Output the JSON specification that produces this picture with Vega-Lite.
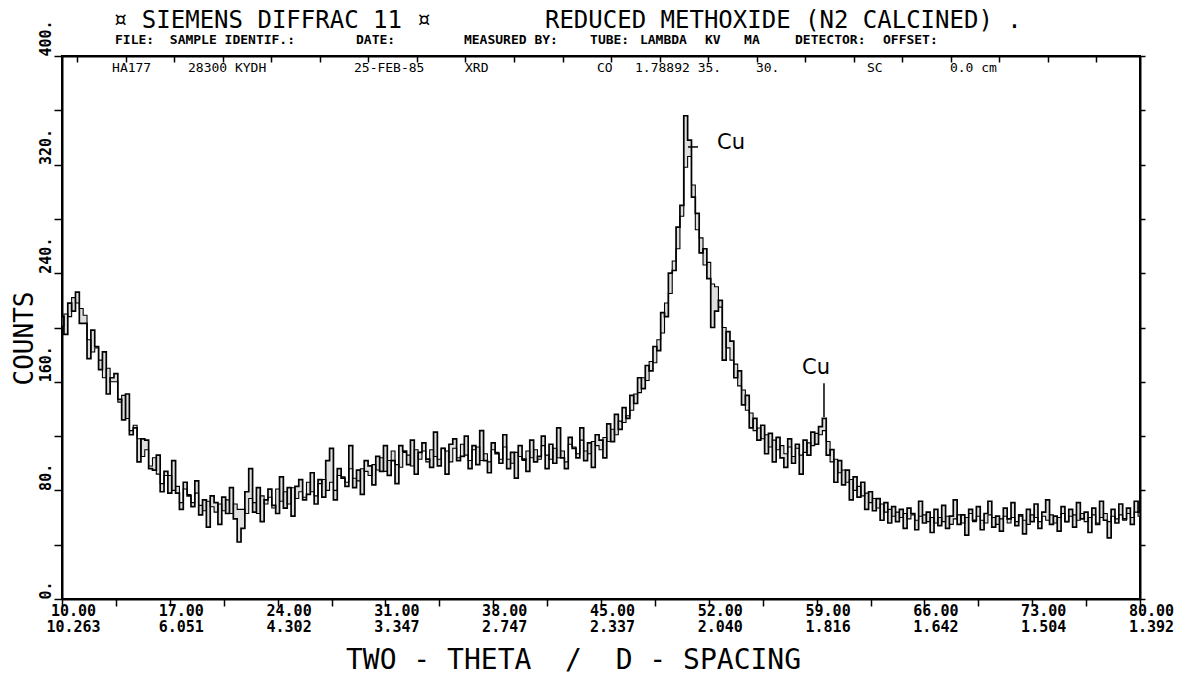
{
"$schema":"https://vega.github.io/schema/vega-lite/v6.json",
"width":1078,"height":543,
"autosize":{"type":"none"},
"padding":{"left":62,"top":56,"right":60,"bottom":76},
"background":"white",
"config":{"font":"DejaVu Sans Mono","view":{"stroke":"black","strokeWidth":2},
 "axis":{"grid":false,"domainColor":"black","domainWidth":2,"tickColor":"black","tickWidth":1.5,"labelColor":"black","titleColor":"black"}},
"datasets":{
"xrd":[
{"t":10,"a":208,"b":201},{"t":10.25,"a":195,"b":210},{"t":10.5,"a":218,"b":208},{"t":10.75,"a":212,"b":222},{"t":11,"a":226,"b":218},
{"t":11.25,"a":203,"b":214},{"t":11.5,"a":203,"b":209},{"t":11.75,"a":177,"b":191},{"t":12,"a":198,"b":182},{"t":12.25,"a":186,"b":185},
{"t":12.5,"a":169,"b":176},{"t":12.75,"a":182,"b":163},{"t":13,"a":151,"b":170},{"t":13.25,"a":163,"b":160},{"t":13.5,"a":166,"b":160},
{"t":13.75,"a":147,"b":145},{"t":14,"a":132,"b":150},{"t":14.25,"a":151,"b":133},{"t":14.5,"a":121,"b":124},{"t":14.75,"a":126,"b":128},
{"t":15,"a":101,"b":118},{"t":15.25,"a":118,"b":105},{"t":15.5,"a":117,"b":110},{"t":15.75,"a":96,"b":98},{"t":16,"a":95,"b":104},
{"t":16.25,"a":106,"b":92},{"t":16.5,"a":79,"b":85},{"t":16.75,"a":94,"b":91},{"t":17,"a":78,"b":91},{"t":17.25,"a":102,"b":80},
{"t":17.5,"a":78,"b":83},{"t":17.75,"a":66,"b":71},{"t":18,"a":86,"b":81},{"t":18.25,"a":76,"b":77},{"t":18.5,"a":68,"b":71},
{"t":18.75,"a":87,"b":78},{"t":19,"a":62,"b":69},{"t":19.25,"a":73,"b":65},{"t":19.5,"a":53,"b":72},{"t":19.75,"a":76,"b":68},
{"t":20,"a":71,"b":64},{"t":20.25,"a":55,"b":70},{"t":20.5,"a":75,"b":65},{"t":20.75,"a":63,"b":73},{"t":21,"a":82,"b":63},
{"t":21.25,"a":59,"b":70},{"t":21.5,"a":42,"b":66},{"t":21.75,"a":52,"b":66},{"t":22,"a":79,"b":63},{"t":22.25,"a":96,"b":74},
{"t":22.5,"a":64,"b":71},{"t":22.75,"a":82,"b":63},{"t":23,"a":57,"b":76},{"t":23.25,"a":73,"b":70},{"t":23.5,"a":81,"b":75},
{"t":23.75,"a":69,"b":67},{"t":24,"a":63,"b":81},{"t":24.25,"a":90,"b":72},{"t":24.5,"a":67,"b":79},{"t":24.75,"a":82,"b":70},
{"t":25,"a":61,"b":82},{"t":25.25,"a":83,"b":74},{"t":25.5,"a":88,"b":79},{"t":25.75,"a":73,"b":75},{"t":26,"a":77,"b":86},
{"t":26.25,"a":93,"b":79},{"t":26.5,"a":70,"b":76},{"t":26.75,"a":88,"b":85},{"t":27,"a":75,"b":88},{"t":27.25,"a":102,"b":80},
{"t":27.5,"a":111,"b":86},{"t":27.75,"a":73,"b":80},{"t":28,"a":96,"b":91},{"t":28.25,"a":89,"b":90},{"t":28.5,"a":83,"b":86},
{"t":28.75,"a":113,"b":96},{"t":29,"a":82,"b":89},{"t":29.25,"a":95,"b":87},{"t":29.5,"a":77,"b":96},{"t":29.75,"a":102,"b":94},
{"t":30,"a":98,"b":91},{"t":30.25,"a":84,"b":99},{"t":30.5,"a":105,"b":95},{"t":30.75,"a":94,"b":104},{"t":31,"a":113,"b":94},
{"t":31.25,"a":91,"b":102},{"t":31.5,"a":102,"b":109},{"t":31.75,"a":85,"b":99},{"t":32,"a":113,"b":97},{"t":32.25,"a":109,"b":108},
{"t":32.5,"a":99,"b":106},{"t":32.75,"a":117,"b":98},{"t":33,"a":92,"b":110},{"t":33.25,"a":108,"b":103},{"t":33.5,"a":115,"b":109},
{"t":33.75,"a":103,"b":101},{"t":34,"a":97,"b":110},{"t":34.25,"a":123,"b":105},{"t":34.5,"a":98,"b":103},{"t":34.75,"a":111,"b":111},
{"t":35,"a":92,"b":109},{"t":35.25,"a":114,"b":101},{"t":35.5,"a":118,"b":111},{"t":35.75,"a":102,"b":104},{"t":36,"a":105,"b":114},
{"t":36.25,"a":120,"b":106},{"t":36.5,"a":96,"b":102},{"t":36.75,"a":113,"b":110},{"t":37,"a":99,"b":112},{"t":37.25,"a":124,"b":102},
{"t":37.5,"a":102,"b":107},{"t":37.75,"a":93,"b":101},{"t":38,"a":115,"b":110},{"t":38.25,"a":107,"b":108},{"t":38.5,"a":100,"b":103},
{"t":38.75,"a":121,"b":112},{"t":39,"a":96,"b":103},{"t":39.25,"a":108,"b":100},{"t":39.5,"a":89,"b":108},{"t":39.75,"a":113,"b":105},
{"t":40,"a":103,"b":102},{"t":40.25,"a":94,"b":109},{"t":40.5,"a":117,"b":104},{"t":40.75,"a":101,"b":110},{"t":41,"a":105,"b":103},
{"t":41.25,"a":120,"b":113},{"t":41.5,"a":96,"b":106},{"t":41.75,"a":114,"b":103},{"t":42,"a":100,"b":111},{"t":42.25,"a":126,"b":104},
{"t":42.5,"a":104,"b":109},{"t":42.75,"a":96,"b":101},{"t":43,"a":119,"b":114},{"t":43.25,"a":111,"b":112},{"t":43.5,"a":104,"b":107},
{"t":43.75,"a":126,"b":117},{"t":44,"a":102,"b":109},{"t":44.25,"a":115,"b":107},{"t":44.5,"a":97,"b":116},{"t":44.75,"a":121,"b":113},
{"t":45,"a":117,"b":110},{"t":45.25,"a":104,"b":119},{"t":45.5,"a":129,"b":116},{"t":45.75,"a":116,"b":125},{"t":46,"a":136,"b":121},
{"t":46.25,"a":125,"b":131},{"t":46.5,"a":141,"b":130},{"t":46.75,"a":133,"b":135},{"t":47,"a":150,"b":139},{"t":47.25,"a":144,"b":151},
{"t":47.5,"a":163,"b":152},{"t":47.75,"a":155,"b":163},{"t":48,"a":172,"b":161},{"t":48.25,"a":168,"b":175},{"t":48.5,"a":186,"b":174},
{"t":48.75,"a":183,"b":191},{"t":49,"a":211,"b":196},{"t":49.25,"a":208,"b":218},{"t":49.5,"a":240,"b":225},{"t":49.75,"a":242,"b":249},
{"t":50,"a":274,"b":258},{"t":50.25,"a":290,"b":282},{"t":50.5,"a":356,"b":318},{"t":50.75,"a":338,"b":326},{"t":51,"a":296,"b":305},
{"t":51.25,"a":284,"b":272},{"t":51.5,"a":255,"b":266},{"t":51.75,"a":258,"b":246},{"t":52,"a":236,"b":248},{"t":52.25,"a":200,"b":232},
{"t":52.5,"a":212,"b":230},{"t":52.75,"a":220,"b":215},{"t":53,"a":176,"b":200},{"t":53.25,"a":197,"b":185},{"t":53.5,"a":190,"b":176},
{"t":53.75,"a":163,"b":173},{"t":54,"a":168,"b":157},{"t":54.25,"a":143,"b":154},{"t":54.5,"a":150,"b":139},{"t":54.75,"a":126,"b":137},
{"t":55,"a":133,"b":124},{"t":55.25,"a":117,"b":126},{"t":55.5,"a":128,"b":118},{"t":55.75,"a":107,"b":121},{"t":56,"a":122,"b":112},
{"t":56.25,"a":101,"b":117},{"t":56.5,"a":119,"b":110},{"t":56.75,"a":104,"b":113},{"t":57,"a":97,"b":107},{"t":57.25,"a":118,"b":112},
{"t":57.5,"a":100,"b":105},{"t":57.75,"a":114,"b":111},{"t":58,"a":92,"b":106},{"t":58.25,"a":117,"b":108},{"t":58.5,"a":106,"b":115},
{"t":58.75,"a":123,"b":113},{"t":59,"a":114,"b":122},{"t":59.25,"a":127,"b":121},{"t":59.5,"a":133,"b":124},{"t":59.75,"a":106,"b":116},
{"t":60,"a":110,"b":101},{"t":60.25,"a":86,"b":103},{"t":60.5,"a":102,"b":93},{"t":60.75,"a":84,"b":95},{"t":61,"a":95,"b":86},
{"t":61.25,"a":73,"b":88},{"t":61.5,"a":90,"b":80},{"t":61.75,"a":75,"b":83},{"t":62,"a":86,"b":76},{"t":62.25,"a":66,"b":78},
{"t":62.5,"a":79,"b":71},{"t":62.75,"a":65,"b":74},{"t":63,"a":74,"b":67},{"t":63.25,"a":58,"b":70},{"t":63.5,"a":71,"b":64},
{"t":63.75,"a":56,"b":66},{"t":64,"a":68,"b":61},{"t":64.25,"a":57,"b":64},{"t":64.5,"a":66,"b":60},{"t":64.75,"a":52,"b":63},
{"t":65,"a":67,"b":59},{"t":65.25,"a":63,"b":62},{"t":65.5,"a":51,"b":58},{"t":65.75,"a":72,"b":61},{"t":66,"a":56,"b":62},
{"t":66.25,"a":64,"b":57},{"t":66.5,"a":49,"b":60},{"t":66.75,"a":66,"b":56},{"t":67,"a":54,"b":60},{"t":67.25,"a":69,"b":57},
{"t":67.5,"a":52,"b":61},{"t":67.75,"a":61,"b":55},{"t":68,"a":73,"b":59},{"t":68.25,"a":55,"b":62},{"t":68.5,"a":62,"b":56},
{"t":68.75,"a":47,"b":60},{"t":69,"a":66,"b":63},{"t":69.25,"a":58,"b":57},{"t":69.5,"a":68,"b":61},{"t":69.75,"a":51,"b":58},
{"t":70,"a":63,"b":56},{"t":70.25,"a":72,"b":62},{"t":70.5,"a":53,"b":60},{"t":70.75,"a":61,"b":55},{"t":71,"a":50,"b":59},
{"t":71.25,"a":67,"b":61},{"t":71.5,"a":59,"b":56},{"t":71.75,"a":71,"b":60},{"t":72,"a":54,"b":57},{"t":72.25,"a":62,"b":61},
{"t":72.5,"a":48,"b":58},{"t":72.75,"a":66,"b":55},{"t":73,"a":57,"b":62},{"t":73.25,"a":70,"b":60},{"t":73.5,"a":52,"b":57},
{"t":73.75,"a":64,"b":61},{"t":74,"a":73,"b":58},{"t":74.25,"a":55,"b":62},{"t":74.5,"a":61,"b":56},{"t":74.75,"a":50,"b":60},
{"t":75,"a":68,"b":63},{"t":75.25,"a":57,"b":57},{"t":75.5,"a":66,"b":61},{"t":75.75,"a":53,"b":62},{"t":76,"a":71,"b":58},
{"t":76.25,"a":59,"b":63},{"t":76.5,"a":64,"b":57},{"t":76.75,"a":49,"b":60},{"t":77,"a":67,"b":62},{"t":77.25,"a":55,"b":56},
{"t":77.5,"a":72,"b":60},{"t":77.75,"a":58,"b":63},{"t":78,"a":45,"b":57},{"t":78.25,"a":66,"b":61},{"t":78.5,"a":56,"b":59},
{"t":78.75,"a":70,"b":62},{"t":79,"a":59,"b":58},{"t":79.25,"a":67,"b":63},{"t":79.5,"a":55,"b":60},{"t":79.75,"a":72,"b":64},
{"t":80,"a":64,"b":61}
],
"hdr":[
{"k":"title","txt":"¤ SIEMENS DIFFRAC 11 ¤","t":13.31,"c":425.5},
{"k":"title","txt":"REDUCED METHOXIDE (N2 CALCINED) .","t":41.36,"c":425.5},
{"k":"lbl","txt":"FILE:","t":13.44,"c":411.5},
{"k":"lbl","txt":"SAMPLE IDENTIF.:","t":17.0,"c":411.5},
{"k":"lbl","txt":"DATE:","t":29.09,"c":411.5},
{"k":"lbl","txt":"MEASURED BY:","t":36.1,"c":411.5},
{"k":"lbl","txt":"TUBE:","t":44.29,"c":411.5},
{"k":"lbl","txt":"LAMBDA","t":47.53,"c":411.5},
{"k":"lbl","txt":"KV","t":51.75,"c":411.5},
{"k":"lbl","txt":"MA","t":54.29,"c":411.5},
{"k":"lbl","txt":"DETECTOR:","t":57.6,"c":411.5},
{"k":"lbl","txt":"OFFSET:","t":63.31,"c":411.5},
{"k":"val","txt":"HA177","t":13.25,"c":391},
{"k":"val","txt":"28300 KYDH","t":18.18,"c":391},
{"k":"val","txt":"25-FEB-85","t":28.96,"c":391},
{"k":"val","txt":"XRD","t":36.17,"c":391},
{"k":"val","txt":"CO","t":44.74,"c":391},
{"k":"val","txt":"1.78892 35.","t":47.21,"c":391},
{"k":"val","txt":"30.","t":55.06,"c":391},
{"k":"val","txt":"SC","t":62.27,"c":391},
{"k":"val","txt":"0.0 cm","t":67.66,"c":391},
{"k":"cu","txt":"Cu","t":52.53,"c":336},
{"k":"cu","txt":"Cu","t":58.05,"c":170}
],
"cum":[
{"x":50.65,"x2":51.3,"y":333,"y2":333},
{"x":59.48,"x2":59.48,"y":159,"y2":134}
]
},
"layer":[
{"data":{"name":"xrd"},
 "mark":{"type":"area","interpolate":"step","color":"#b0b0b0","opacity":0.4},
 "encoding":{
  "x":{"field":"t","type":"quantitative","scale":{"domain":[10,80],"nice":false,"zero":false},
   "axis":{"orient":"bottom","values":[10,13.5,17,20.5,24,27.5,31,34.5,38,41.5,45,48.5,52,55.5,59,62.5,66,69.5,73,76.5,80],
    "tickSize":7,"labelFontSize":15,"labelFontWeight":"bold","labelLineHeight":16,"labelPadding":-3,"labelAlign":"center","labelBaseline":"top","labelOffset":11,"labelFlush":false,"labelOverlap":false,
    "labelExpr":"(datum.value - 10) % 7 == 0 ? [format(datum.value, '.2f'), format(1.78892 / (2 * sin(datum.value * PI / 360)), '.3f')] : ''",
    "title":"TWO - THETA\u00a0 /\u00a0 D - SPACING","titleFontSize":28,"titleFontWeight":"normal","titleX":511,"titleY":69,"titleAlign":"center","titleBaseline":"alphabetic"}},
  "y":{"field":"a","type":"quantitative","scale":{"domain":[0,400],"nice":false,"zero":true},
   "axis":{"orient":"left","values":[0,40,80,120,160,200,240,280,320,360,400],"tickSize":8,
    "labelExpr":"datum.value % 80 == 0 ? datum.value + '.' : ''","labelAngle":270,"labelAlign":"left","labelBaseline":"alphabetic","labelPadding":4,"labelFontSize":15,"labelFontWeight":"bold","labelOverlap":false,"labelFlush":false,
    "title":"COUNTS","titleFontSize":26,"titleFontWeight":"normal","titleAngle":270,"titleX":-30,"titleY":282,"titleAlign":"center","titleBaseline":"alphabetic"}},
  "y2":{"field":"b"}}},
{"data":{"name":"xrd"},
 "transform":[{"fold":["a","b"],"as":["s","c"]}],
 "mark":{"type":"line","interpolate":"step","color":"black"},
 "encoding":{
  "x":{"field":"t","type":"quantitative","axis":null},
  "y":{"field":"c","type":"quantitative","axis":null},
  "detail":{"field":"s"},
  "strokeWidth":{"field":"s","type":"nominal","scale":{"domain":["a","b"],"range":[1.7,1.1]},"legend":null}}},
{"data":{"name":"hdr"},"transform":[{"filter":"datum.k == 'title'"}],
 "mark":{"type":"text","align":"left","baseline":"middle","fontSize":24,"color":"black"},
 "encoding":{"x":{"field":"t","type":"quantitative","axis":null},"y":{"field":"c","type":"quantitative","axis":null},"text":{"field":"txt"}}},
{"data":{"name":"hdr"},"transform":[{"filter":"datum.k == 'lbl'"}],
 "mark":{"type":"text","align":"left","baseline":"middle","fontSize":13,"fontWeight":"bold","color":"black"},
 "encoding":{"x":{"field":"t","type":"quantitative","axis":null},"y":{"field":"c","type":"quantitative","axis":null},"text":{"field":"txt"}}},
{"data":{"name":"hdr"},"transform":[{"filter":"datum.k == 'val'"}],
 "mark":{"type":"text","align":"left","baseline":"middle","fontSize":13,"color":"black"},
 "encoding":{"x":{"field":"t","type":"quantitative","axis":null},"y":{"field":"c","type":"quantitative","axis":null},"text":{"field":"txt"}}},
{"data":{"name":"hdr"},"transform":[{"filter":"datum.k == 'cu'"}],
 "mark":{"type":"text","align":"left","baseline":"middle","fontSize":21,"font":"DejaVu Sans","color":"black"},
 "encoding":{"x":{"field":"t","type":"quantitative","axis":null},"y":{"field":"c","type":"quantitative","axis":null},"text":{"field":"txt"}}},
{"data":{"name":"cum"},
 "mark":{"type":"rule","color":"black","strokeWidth":1.5},
 "encoding":{
  "x":{"field":"x","type":"quantitative","axis":{"orient":"top","values":[11,14.15,17.3,20.45,23.6,26.75,29.9,33.05,36.2,39.35,42.5,45.65,48.8,51.95,55.1,58.25,61.4,64.55,67.7,70.85,74,77.15],"labels":false,"tickSize":-6,"title":null}},
  "x2":{"field":"x2"},
  "y":{"field":"y","type":"quantitative","axis":{"orient":"right","values":[0,40,80,120,160,200,240,280,320,360,400],"labels":false,"tickSize":5,"title":null}},
  "y2":{"field":"y2"}}}
],
"resolve":{"axis":{"x":"independent","y":"independent"}}
}
